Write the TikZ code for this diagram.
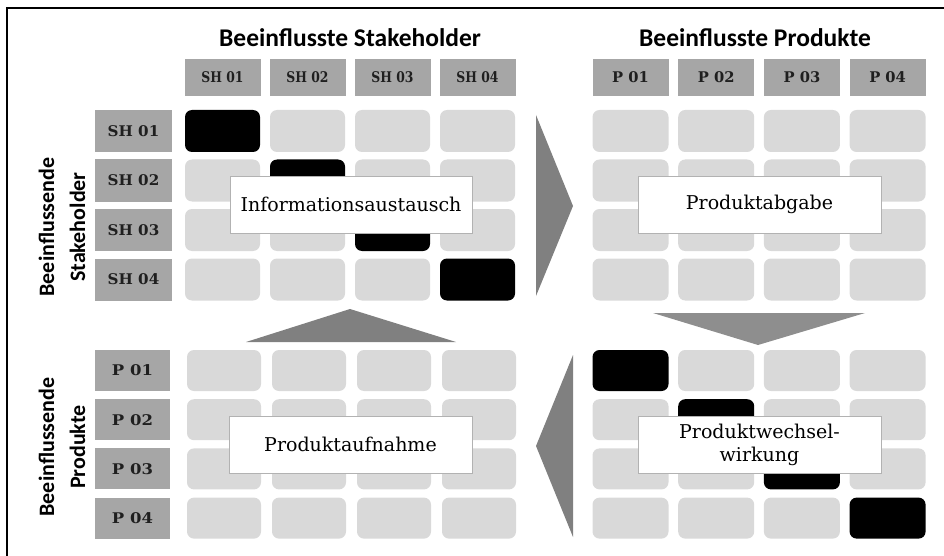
\documentclass[tikz,border=0pt]{standalone}
\usepackage{graphicx}
\usepackage{fontspec}
\setmainfont{Liberation Serif}
\newfontfamily\titlefont{Carlito}
\newfontfamily\labelfont{DejaVu Serif}
\definecolor{hdrgray}{RGB}{166,166,166}
\definecolor{cellgray}{RGB}{217,217,217}
\definecolor{arrowgray}{RGB}{128,128,128}
\definecolor{arrowlight}{RGB}{142,142,142}
% header text, scaled horizontally by a factor
\newcommand{\widetext}[2]{\scalebox{#1}[1]{#2}}
\begin{document}
\begin{tikzpicture}[x=1pt,y=-1pt,
  hdr/.style={fill=hdrgray, inner sep=0pt, minimum width=76pt, minimum height=37pt,
    font=\labelfont\fontsize{14.7}{18}\selectfont\bfseries, text=black!88},
  rowhdr/.style={hdr, minimum height=42pt},
  cell/.style={fill=cellgray, rounded corners=7pt, inner sep=0pt,
    minimum width=75pt, minimum height=42pt},
  hit/.style={cell, fill=black},
  tag/.style={fill=white, draw=gray!60, line width=0.5pt, inner sep=0pt,
    minimum width=242pt, minimum height=57pt, align=center,
    font=\labelfont\fontsize{19}{23}\selectfont},
  heading/.style={font=\titlefont\fontsize{25.5}{28}\selectfont\bfseries, anchor=base},
  sidelabel/.style={font=\titlefont\fontsize{22}{31}\selectfont\bfseries, align=center, rotate=90},
  flow/.style={fill=arrowgray, draw=none}
]
\useasboundingbox (0,0) rectangle (944,556);

% frame
\draw[line width=2pt] (7,556) -- (7,8) -- (944,8);

% headings
\node[heading] (ht1) at (350,47) {Beeinflusste Stakeholder};
\node[heading] (ht2) at (755,47) {Beeinflusste Produkte};
\node[sidelabel] (hs1) at (62,227) {Beeinflussende\\Stakeholder};
\node[sidelabel] (hs2) at (62,447) {Beeinflussende\\Produkte};

% column headers
\foreach \i in {1,...,4} {
  \node[hdr] (csh\i) at ({222.5+85*(\i-1)},77.5) {\widetext{0.84}{SH 0\i}};
  \node[hdr] (cp\i) at ({630.5+85.7*(\i-1)},77.5) {\widetext{1.0}{P 0\i}};
}

% row headers
\foreach \j in {1,...,4} {
  \node[rowhdr, minimum width=77pt] (rsh\j) at (133.5,{131+49.5*(\j-1)}) {\widetext{1.03}{SH 0\j}};
  \node[rowhdr, minimum width=75pt, minimum height=41pt] (rp\j) at (132.5,{370.5+49.2*(\j-1)}) {\widetext{1.12}{P 0\j}};
}

% matrix cells
\foreach \j in {1,...,4} {
  \foreach \i in {1,...,4} {
    \ifnum\i=\j
      \node[hit] (a\j\i) at ({222.5+85*(\i-1)},{131+49.5*(\j-1)}) {};
      \node[hit, minimum width=76pt, minimum height=41pt] (d\j\i) at ({630.5+85.7*(\i-1)},{370.5+49.2*(\j-1)}) {};
    \else
      \node[cell] (a\j\i) at ({222.5+85*(\i-1)},{131+49.5*(\j-1)}) {};
      \node[cell, minimum width=76pt, minimum height=41pt] (d\j\i) at ({630.5+85.7*(\i-1)},{370.5+49.2*(\j-1)}) {};
    \fi
    \node[cell, minimum width=76pt] (b\j\i) at ({630.5+85.7*(\i-1)},{131+49.5*(\j-1)}) {};
    \node[cell, minimum width=74pt, minimum height=41pt] (c\j\i) at ({224+85*(\i-1)},{370.5+49.2*(\j-1)}) {};
  }
}

% flow arrows between the quadrants
\fill[flow] (536,115) -- (573,206) -- (536,296) -- cycle;
\fill[flow, fill=arrowlight] (653,313) -- (865,313) -- (758,345) -- cycle;
\fill[flow] (573,355) -- (573,537) -- (536,446) -- cycle;
\fill[flow] (246,342) -- (456,342) -- (350,309) -- cycle;

% quadrant labels
\node[tag] (t1) at (351,204.5) {Informationsaustausch};
\node[tag, minimum width=243pt] (t2) at (759.5,204.5) {Produktabgabe};
\node[tag, minimum width=243pt] (t3) at (350.5,444.5) {Produktaufnahme};
\node[tag, minimum width=243pt] (t4) at (759.5,444.5) {Produktwechsel-\\wirkung};
\end{tikzpicture}
\end{document}
